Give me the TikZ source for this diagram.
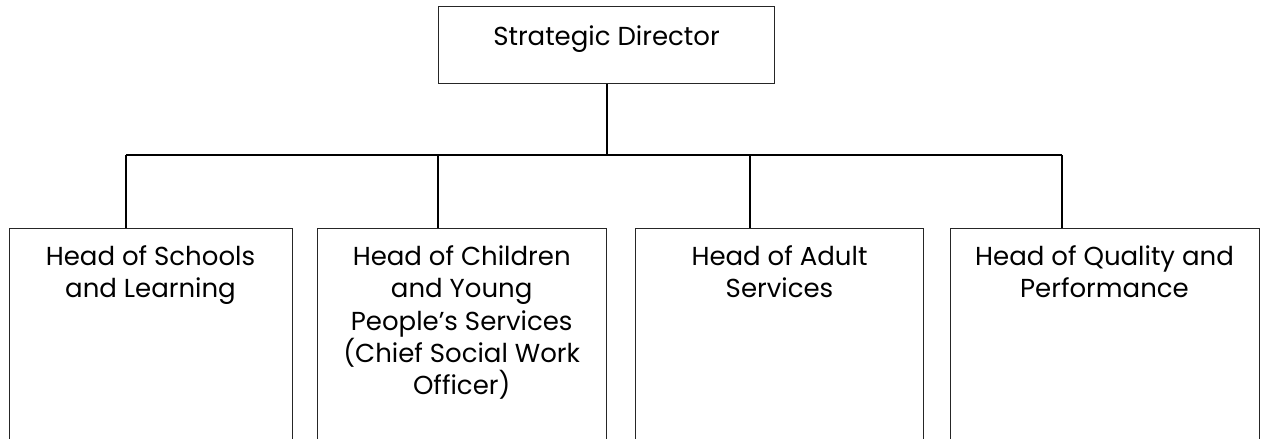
\documentclass[tikz,border=0pt]{standalone}
\usepackage{fontspec}
\setmainfont{Poppins}
\begin{document}
\begin{tikzpicture}[x=1pt,y=-1pt,
  box/.style={draw=black!85, line width=1pt, inner sep=0pt, anchor=north west},
  txt/.style={inner sep=0pt, anchor=north, align=center, font=\fontsize{26}{32.3}\selectfont},
  conn/.style={draw=black, line width=2pt}]
\useasboundingbox (0,0) rectangle (1264,439);
\clip (0,0) rectangle (1264,439);
\node[box, minimum width=336pt, minimum height=77pt] (top) at (438,6) {};
\node[txt] (ttop) at ([yshift=-20pt]top.north) {Strategic Director};
\node[box, minimum width=283pt, minimum height=260pt] (b1) at (8.5,227.5) {};
\node[box, minimum width=289pt, minimum height=260pt] (b2) at (316.7,227.5) {};
\node[box, minimum width=288pt, minimum height=260pt] (b3) at (635,227.5) {};
\node[box, minimum width=309pt, minimum height=260pt] (b4) at (949.5,227.5) {};
\node[txt] (t1) at ([yshift=-18pt]b1.north) {Head of Schools\\and Learning};
\node[txt] (t2) at ([yshift=-18pt]b2.north) {Head of Children\\and Young\\People’s Services\\(Chief Social Work\\Officer)};
\node[txt] (t3) at ([yshift=-18pt]b3.north) {Head of Adult\\Services};
\node[txt] (t4) at ([yshift=-18pt]b4.north) {Head of Quality and\\Performance};
\coordinate (j1) at (126,155);
\coordinate (j2) at (438,155);
\coordinate (j3) at (750,155);
\coordinate (j4) at (1062,155);
\coordinate (jt) at (top.south |- j1);
\draw[conn] (top.south) -- (jt);
\draw[conn] (j1) -- (j4);
\draw[conn] (j1) -- (j1 |- b1.north);
\draw[conn] (j2) -- (j2 |- b2.north);
\draw[conn] (j3) -- (j3 |- b3.north);
\draw[conn] (j4) -- (j4 |- b4.north);
\end{tikzpicture}
\end{document}
